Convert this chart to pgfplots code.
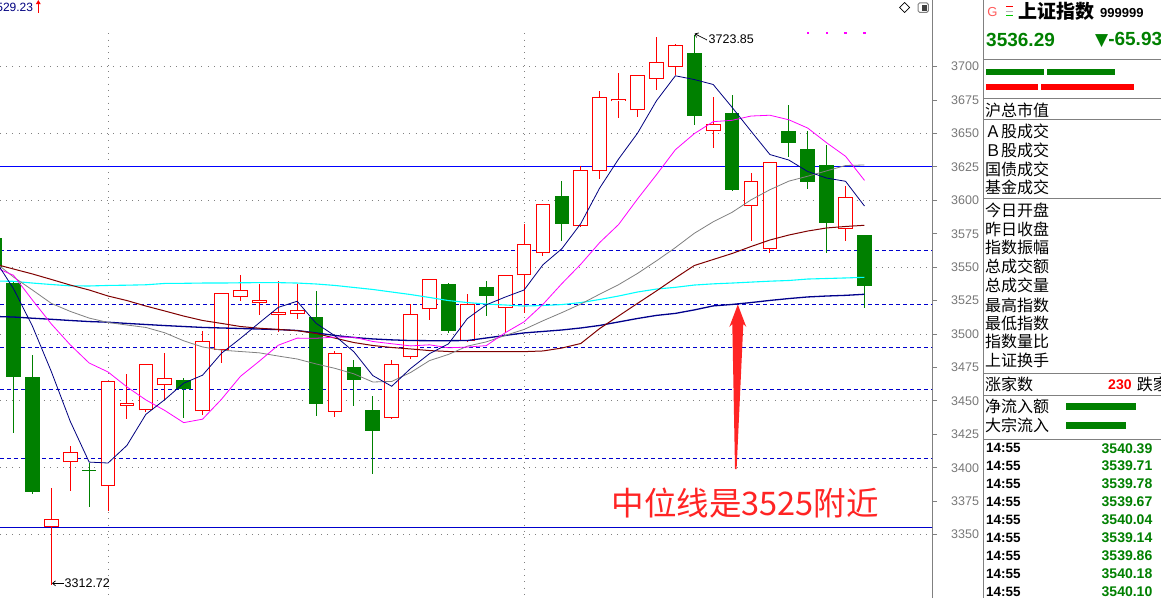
\documentclass[border=0pt]{standalone}
\usepackage{fontspec}
\setmainfont{Liberation Sans}
\newfontfamily\cjk{Noto Sans CJK SC}
\newfontfamily\dejavu{DejaVu Sans}
\usepackage{pgfplots}
\pgfplotsset{compat=1.18}
\usepackage{pgfplotstable}
\usetikzlibrary{arrows.meta}

\definecolor{cgreen}{RGB}{0,128,0}
\definecolor{cred}{RGB}{255,0,0}
\definecolor{ma5c}{RGB}{0,0,128}
\definecolor{ma10c}{RGB}{255,0,255}
\definecolor{ma20c}{RGB}{128,128,128}
\definecolor{ma60c}{RGB}{128,0,0}
\definecolor{cyanc}{RGB}{0,255,255}
\definecolor{bluec}{RGB}{0,0,140}
\definecolor{dashb}{RGB}{0,0,205}
\definecolor{gridc}{RGB}{128,128,128}
\definecolor{anred}{RGB}{255,36,36}
\definecolor{gtxt}{RGB}{120,120,120}

% red (rising) candles: index open high low close
\pgfplotstableread{
i o h l c
2 3356.0 3384.9 3312.72 3361.7
3 3404.1 3416.3 3382.9 3411.6
5 3386.2 3465.0 3367.9 3464.7
6 3446.5 3470.2 3436.3 3448.3
7 3443.0 3478.0 3442.0 3477.4
8 3461.7 3485.9 3450.7 3467.0
10 3442.3 3502.3 3439.7 3494.6
11 3488.1 3531.0 3478.2 3530.5
12 3527.5 3544.2 3525.0 3532.8
13 3523.0 3537.5 3514.5 3525.5
14 3514.5 3539.7 3501.4 3516.5
15 3514.8 3537.5 3511.5 3517.8
17 3442.0 3487.4 3438.2 3485.7
20 3437.0 3480.6 3436.5 3477.4
21 3482.7 3522.3 3481.4 3514.8
22 3518.6 3541.5 3510.6 3541.0
24 3494.6 3530.0 3494.0 3522.3
26 3519.3 3544.5 3500.6 3544.0
27 3544.0 3582.4 3515.6 3567.2
28 3560.4 3597.5 3558.4 3597.1
30 3580.6 3625.5 3580.0 3622.5
31 3621.8 3681.8 3616.2 3677.1
32 3674.1 3695.3 3661.9 3675.8
33 3667.4 3694.0 3662.6 3693.6
34 3691.0 3722.0 3682.8 3703.3
35 3699.6 3717.2 3693.8 3716.0
37 3651.7 3677.3 3639.4 3657.1
39 3595.6 3620.3 3569.9 3614.3
40 3563.4 3629.0 3560.9 3628.5
44 3578.4 3611.0 3569.9 3602.3
}\redtab

% green (falling) candles
\pgfplotstableread{
i o h l c
-1 3571.7 3575.0 3548.0 3550.2
0 3538.2 3540.0 3425.8 3468.2
1 3467.9 3484.2 3380.7 3382.1
4 3398.5 3403.8 3370.9 3397.8
9 3465.7 3466.9 3437.5 3459.2
16 3512.6 3532.2 3439.0 3448.0
18 3475.4 3480.6 3446.2 3465.9
19 3443.2 3453.7 3395.6 3427.8
23 3537.5 3538.0 3500.6 3502.6
25 3535.2 3539.7 3513.8 3528.7
29 3603.3 3614.5 3569.9 3582.6
36 3710.5 3723.85 3656.4 3663.4
38 3665.4 3678.8 3607.3 3608.0
41 3651.9 3671.4 3632.7 3643.2
42 3638.4 3651.9 3608.5 3614.0
43 3626.5 3641.7 3560.9 3583.3
45 3574.1 3574.5 3519.3 3536.3
}\greentab

% moving averages
\pgfplotstableread{
i ma5 ma10 ma20 ma60 cy bl
-1 3556 3550 3554 3552.4 3539.7 3513.2
0 3534 3544 3542.7 3548.7 3539.5 3512.8
1 3506 3525.5 3533 3545 3538.2 3511.9
2 3472 3507.6 3523 3540.9 3537.1 3511.1
3 3434.8 3492 3517 3536.7 3536.1 3510.2
4 3404.3 3478.4 3512 3533 3536 3509.4
5 3403.6 3471.7 3508.7 3528.5 3536.4 3508.9
6 3416.8 3460.5 3506.8 3525.1 3536.6 3508
7 3440.0 3450.8 3505 3521 3536.9 3507.2
8 3451.0 3442.9 3501 3517.3 3537.9 3506.4
9 3463.3 3433.8 3495 3513.5 3538 3505.7
10 3469.3 3436.4 3490.4 3510.2 3538.2 3505
11 3485.7 3451.3 3488 3508 3538.2 3504.6
12 3496.8 3468.4 3487 3505.7 3538.4 3504.2
13 3508.5 3479.8 3486 3504.4 3538.5 3503.8
14 3520.0 3491.7 3483.6 3503.5 3538.5 3503.4
15 3524.6 3497.0 3481.4 3502.6 3538.2 3502.7
16 3508.1 3496.9 3477.7 3500.5 3537.5 3500.9
17 3498.7 3497.8 3474.4 3497 3536.4 3499
18 3486.8 3497.7 3470.3 3493.7 3534.9 3497.5
19 3469.0 3494.5 3464.2 3491.5 3533.4 3496.4
20 3461.0 3492.8 3464.6 3490 3531.5 3495.7
21 3474.3 3491.2 3471.3 3488.9 3529.6 3495.2
22 3485.4 3492.0 3480.2 3487.7 3527.4 3495.1
23 3492.7 3489.8 3484.8 3487 3525.1 3495.1
24 3511.6 3490.3 3491.0 3486.9 3523.6 3495.2
25 3521.9 3491.4 3494.2 3486.9 3522.5 3497.1
26 3527.7 3501.0 3499.0 3486.9 3521.8 3499
27 3533.0 3509.2 3503.5 3486.9 3521 3500.9
28 3551.9 3522.3 3510.0 3487.4 3521.4 3502
29 3563.9 3537.8 3516.1 3489.6 3522.1 3503.1
30 3582.7 3552.3 3522.5 3493 3523.6 3504.6
31 3609.3 3568.5 3529.9 3504.2 3525.9 3506.5
32 3631.0 3582.0 3537.0 3513.6 3528.5 3509.1
33 3650.3 3601.1 3545.4 3523 3531.5 3511.7
34 3674.5 3619.2 3554.8 3532.3 3533.7 3514
35 3693.2 3637.9 3564.7 3542 3535 3515.5
36 3690.4 3649.9 3575.4 3551.3 3536.7 3518.1
37 3686.7 3658.9 3584.0 3555.8 3537.6 3521.1
38 3669.6 3659.9 3591.1 3560.3 3538.2 3522.2
39 3651.8 3663.1 3600.4 3565.5 3538.9 3523.6
40 3634.3 3663.7 3608.0 3570.4 3539.6 3525.2
41 3630.2 3660.3 3614.4 3574.1 3540.1 3526.6
42 3621.6 3654.1 3618.1 3577.1 3541.2 3527.8
43 3616.7 3643.1 3622.1 3579.4 3541.6 3528.5
44 3614.3 3633.0 3626.1 3580.5 3542 3529
45 3595.8 3615.0 3626.5 3581.4 3542.5 3529.8
}\matab

\pgfplotsset{
  candle/.style={draw=none, mark=none, forget plot, error bars/y explicit, error bars/error mark=none},
}

\begin{document}
\begin{tikzpicture}
\useasboundingbox (0pt,0pt) rectangle (1161pt,598pt);
\fill[white] (0pt,0pt) rectangle (1161pt,598pt);
\begin{axis}[
  at={(0pt,0pt)}, anchor=south west,
  scale only axis, width=932pt, height=598pt,
  xmin=-0.7139, xmax=48.572, ymin=3302.65, ymax=3749.88,
  axis x line=none, axis y line*=right,
  axis line style={draw=gridc, line width=1pt},
  ytick={3350,3375,...,3700},
  tick align=outside, major tick length=5pt,
  ytick style={draw=gridc, line width=1pt},
  yticklabel style={font=\fontsize{12.5}{13}\selectfont, text=gtxt, anchor=west, inner sep=0pt, xshift=14pt},
  /pgf/number format/assume math mode=true,
  /pgf/number format/1000 sep={},
  /pgf/number format/fixed,
]
% dotted grid
\pgfplotsinvokeforeach{3350,3400,3450,3500,3550,3600,3650,3700}{
  \addplot[gridc, line width=1pt, dash pattern=on 1pt off 5.3pt, forget plot] coordinates {(-0.72,#1) (48.6,#1)};
}
\addplot[gridc, line width=1pt, dash pattern=on 1pt off 5.3pt] coordinates {(5,3725) (5,3300)};
\addplot[gridc, line width=1pt, dash pattern=on 1pt off 5.3pt] coordinates {(27,3725) (27,3300)};
% reference lines
\pgfplotsinvokeforeach{3562.2,3522.3,3490.1,3458.7,3407.1}{
  \addplot[dashb, line width=1pt, dash pattern=on 4pt off 3pt, forget plot] coordinates {(-0.72,#1) (48.6,#1)};
}
\addplot[blue, line width=1.3pt] coordinates {(-0.72,3625.5) (48.6,3625.5)};
\addplot[dashb, line width=1pt] coordinates {(-0.72,3355.5) (48.6,3355.5)};

% wicks
\addplot[candle, error bars/y dir=both, error bars/error bar style={line width=1pt, draw=cred}]
  table[x=i, y=c, y error plus expr=\thisrow{h}-\thisrow{c}, y error minus expr=\thisrow{c}-\thisrow{l}] {\redtab};
\addplot[candle, error bars/y dir=both, error bars/error bar style={line width=1pt, draw=cgreen}]
  table[x=i, y=c, y error plus expr=\thisrow{h}-\thisrow{c}, y error minus expr=\thisrow{c}-\thisrow{l}] {\greentab};
% bodies
\addplot[candle, error bars/y dir=plus, error bars/error bar style={line width=14.7pt, draw=cred}]
  table[x=i, y=o, y error plus expr=\thisrow{c}-\thisrow{o}] {\redtab};
\addplot[candle, error bars/y dir=plus, error bars/error bar style={line width=12.7pt, draw=white}]
  table[x=i, y expr=\thisrow{o}+0.75, y error plus expr=\thisrow{c}-\thisrow{o}-1.5] {\redtab};
\addplot[candle, error bars/y dir=plus, error bars/error bar style={line width=14.7pt, draw=cgreen}]
  table[x=i, y=c, y error plus expr=\thisrow{o}-\thisrow{c}] {\greentab};

% moving averages
\addplot[bluec, line width=1.3pt, mark=none] table[x=i, y=bl] {\matab};
\addplot[cyanc, line width=1.1pt, mark=none] table[x=i, y=cy] {\matab};
\addplot[ma60c, line width=1pt, mark=none] table[x=i, y=ma60] {\matab};
\addplot[ma20c, line width=0.8pt, mark=none] table[x=i, y=ma20] {\matab};
\addplot[ma10c, line width=0.8pt, mark=none] table[x=i, y=ma10] {\matab};
\addplot[ma5c, line width=0.8pt, mark=none] table[x=i, y=ma5] {\matab};

% magenta dots
\addplot[only marks, mark=square*, mark size=0.9pt, ma10c] coordinates {(42,3725.4) (43,3725.4) (44,3725.4) (45,3725.4)};
\end{axis}

\begin{scope}[shift={(0pt,598pt)}, x=1pt, y=-1pt]
% top-left label
\node[anchor=base east, inner sep=0pt, text=ma5c, font=\fontsize{12}{13}\selectfont] at (33.3,11.5) {3529.23};
\draw[cred, line width=1pt] (38.3,3) -- (38.3,13.3);
\fill[cred] (35.8,4.2) -- (40.8,4.2) -- (38.3,0) -- cycle;
% icons top right
\draw[black, line width=0.7pt] (899.5,7.5) -- (904.5,2.5) -- (909.5,7.5) -- (904.5,12.5) -- cycle;
\draw[gridc, line width=1pt, rounded corners=1.5pt] (918,3) rectangle (928.3,12.3);
\fill[black!75] (922.3,4.6) rectangle (926.5,10.7);
% extreme labels
\draw[line width=0.7pt, -{Straight Barb[length=3pt, width=5pt]}] (64,583.3) -- (52,583.3);
\node[anchor=west, inner sep=0pt, font=\fontsize{12.5}{13}\selectfont] at (64.5,583.5) {3312.72};
\draw[line width=0.7pt, -{Straight Barb[length=3pt, width=5pt]}] (707,40) -- (694.5,33.6);
\node[anchor=west, inner sep=0pt, font=\fontsize{12.5}{13}\selectfont] at (708.5,39.5) {3723.85};
% big red arrow and note
\fill[anred] (735.0,469) -- (732.3,324) -- (729.3,327) -- (737.8,304.5) -- (746.3,327) -- (743.3,324) -- (736.6,469) -- cycle;
\node[anchor=west, inner sep=0pt, text=anred, font=\cjk\fontsize{32.5}{33}\selectfont] at (611.5,503) {中位线是3525附近};

% right panel
\draw[gridc, line width=1pt] (983,0) -- (983,598);
\foreach \yy in {60,98.3,119.3,198.5,373.3,395.7,439.3} {
  \draw[gridc, line width=1pt] (983,\yy) -- (1161,\yy);
}
\node[anchor=center, inner sep=0pt, text={rgb,255:red,255;green,90;blue,90}, font=\fontsize{13}{13}\selectfont] at (992.5,12) {G};
\draw[cred, line width=1pt] (1006,7) -- (1013.3,7);
\draw[gray!60, line width=1pt] (1006,11.5) -- (1013.3,11.5);
\draw[green!80!black, line width=1pt] (1006,15.5) -- (1013.3,15.5);
\node[anchor=west, inner sep=0pt, font=\cjk\bfseries\fontsize{19}{19}\selectfont] at (1018,11.5) {上证指数};
\node[anchor=west, inner sep=0pt, font=\bfseries\fontsize{13}{13}\selectfont] at (1100,13) {999999};
\node[anchor=west, inner sep=0pt, text=cgreen, font=\bfseries\fontsize{19}{19}\selectfont] at (986,40) {3536.29};
\node[anchor=west, inner sep=0pt, text=cgreen, font=\bfseries\fontsize{19}{19}\selectfont] at (1095,40) {{\dejavu\fontsize{17}{17}\selectfont ▼}-65.93};
\fill[cgreen] (986,69) rectangle (1044,75);
\fill[cgreen] (1047,69) rectangle (1115,75);
\fill[cred] (986,84) rectangle (1038,90);
\fill[cred] (1041,84) rectangle (1134,90);
\begin{scope}[every node/.style={anchor=west, inner sep=0pt, font=\cjk\fontsize{16}{16}\selectfont}]
\node at (985,110) {沪总市值};
\node at (985,131.7) {Ａ股成交};
\node at (985,150) {Ｂ股成交};
\node at (985,169.3) {国债成交};
\node at (985,187.7) {基金成交};
\node at (985,210) {今日开盘};
\node at (985,229) {昨日收盘};
\node at (985,247.7) {指数振幅};
\node at (985,266.7) {总成交额};
\node at (985,285.7) {总成交量};
\node at (985,305) {最高指数};
\node at (985,323.3) {最低指数};
\node at (985,341.7) {指数量比};
\node at (985,360.7) {上证换手};
\node at (985,384.3) {涨家数};
\node at (1136.7,384.3) {跌家数};
\node at (985,406.7) {净流入额};
\node at (985,425) {大宗流入};
\end{scope}
\node[anchor=west, inner sep=0pt, text=cred, font=\bfseries\fontsize{14}{14}\selectfont] at (1108,384.5) {230};
\fill[cgreen] (1065.7,403.3) rectangle (1136,410);
\fill[cgreen] (1065.7,422.3) rectangle (1125.7,429);
\foreach \yy/\pp in {448.3/3540.39, 466/3539.71, 484/3539.78, 502/3539.67, 520/3540.04, 537.7/3539.14, 555.7/3539.86, 573.7/3540.18, 591.7/3540.10} {
  \node[anchor=west, inner sep=0pt, font=\bfseries\fontsize{13.5}{14}\selectfont] at (986,\yy) {14:55};
  \node[anchor=east, inner sep=0pt, text=cgreen, font=\bfseries\fontsize{14}{14}\selectfont] at (1152.5,\yy) {\pp};
}
\end{scope}
\end{tikzpicture}
\end{document}
